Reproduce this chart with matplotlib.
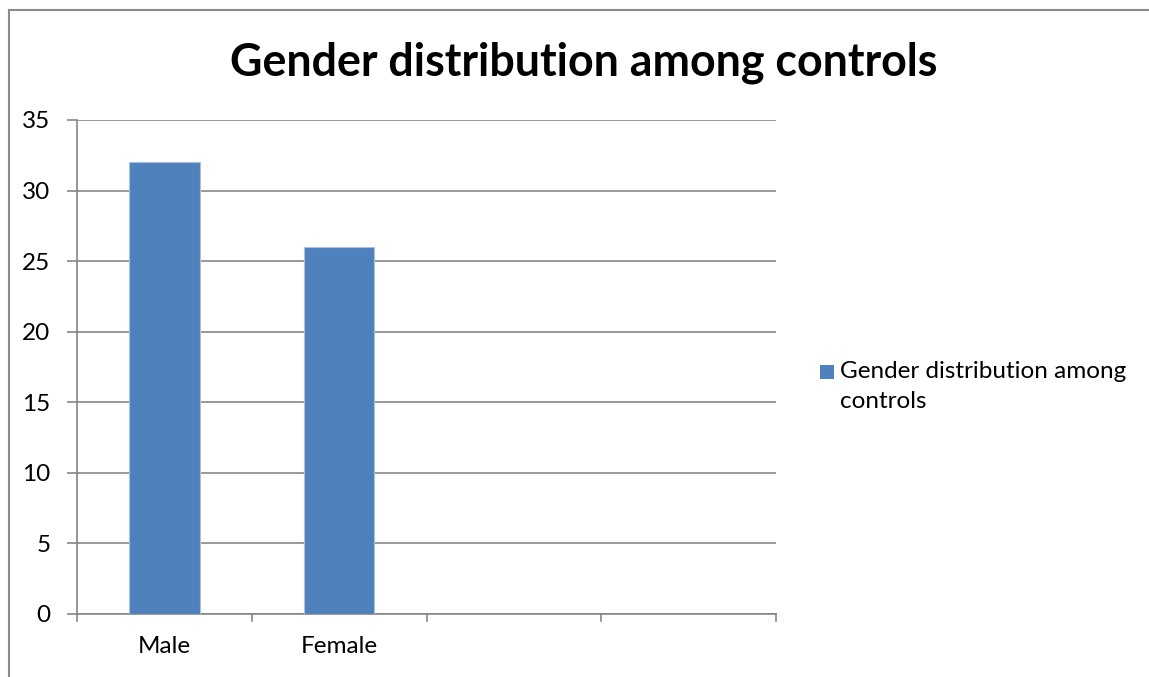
import matplotlib
matplotlib.use("Agg")
import matplotlib.pyplot as plt
from matplotlib.patches import Rectangle
from matplotlib.lines import Line2D

categories = ["Male", "Female", "", ""]
counts = [32, 26, None, None]
series_name = "Gender distribution among controls"
legend_lines = ["Gender distribution among", "controls"]
yticks = [0, 5, 10, 15, 20, 25, 30, 35]

W, H, DPI = 1149, 677, 100
plt.rcParams["font.family"] = ["Lato", "DejaVu Sans"]

fig = plt.figure(figsize=(W / DPI, H / DPI), dpi=DPI)
fig.patch.set_facecolor("white")


def fx(px):
    return px / W


def fy(py):
    return 1 - py / H


# plot area in pixel coordinates
left, right, top, bottom = 77, 776, 120, 614
ax = fig.add_axes([fx(left), fy(bottom), (right - left) / W, (bottom - top) / H])

grid_col = "#868686"
bar_col = "#4F81BD"
tick_fs = 17.5

xs = list(range(len(categories)))
vals = [v if v is not None else 0 for v in counts]
bars = ax.bar(xs, vals, width=0.403, color=bar_col, edgecolor="#A9C0DE",
              linewidth=0.8, zorder=3)
for b, v in zip(bars, counts):
    if v is None:
        b.set_visible(False)

ax.set_xlim(-0.5, len(categories) - 0.5)
ax.set_ylim(0, 35)
ax.set_yticks(yticks)
ax.set_yticklabels([str(t) for t in yticks], fontsize=tick_fs)
ax.yaxis.grid(True, color=grid_col, linewidth=1.2, zorder=0)
ax.set_axisbelow(True)

ax.set_xticks(xs)
ax.set_xticklabels(categories, fontsize=tick_fs)
ax.tick_params(axis="x", length=0, pad=16)
ax.tick_params(axis="y", length=7, color=grid_col, width=1.2, pad=12)

# category boundary tick marks below the axis
for bx in [i - 0.5 for i in range(len(categories) + 1)]:
    ax.plot([bx, bx], [0, -7 / (bottom - top) * 35], color=grid_col, lw=1.2,
            clip_on=False, zorder=4)

for s in ["top", "right"]:
    ax.spines[s].set_visible(False)
for s in ["left", "bottom"]:
    ax.spines[s].set_color(grid_col)
    ax.spines[s].set_linewidth(1.2)

# chart title
fig.text(fx(583.5), fy(75), series_name, ha="center", va="baseline",
         fontsize=32.2, fontweight="bold", color="black")

# legend: colour key plus wrapped series name
fig.add_artist(Rectangle((fx(820), fy(378.5)), 14 / W, 13.5 / H,
                         transform=fig.transFigure, facecolor=bar_col,
                         edgecolor="none"))
for i, line in enumerate(legend_lines):
    fig.text(fx(840), fy(378.5 + 30 * i), line, ha="left", va="baseline",
             fontsize=tick_fs, color="black")

# outer chart frame (partially visible)
fig.add_artist(Line2D([fx(8.5), fx(8.5)], [0, fy(9.5)], color="#8a8a8a", lw=1.5))
fig.add_artist(Line2D([fx(8.5), 1], [fy(9.5), fy(9.5)], color="#8a8a8a", lw=1.5))

fig.savefig("out.png", dpi=DPI, facecolor="white")
